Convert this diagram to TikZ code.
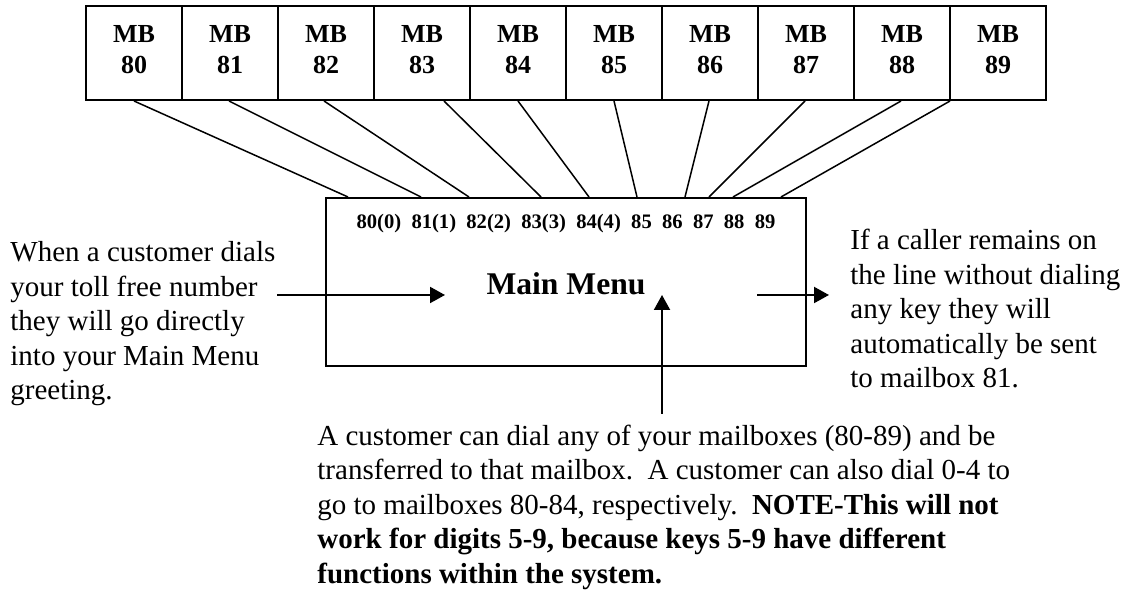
\documentclass[tikz,border=0pt]{standalone}
\usepackage{fontspec}
\setmainfont{Liberation Serif}
\usetikzlibrary{arrows.meta,calc}

\newlength{\du}
\setlength{\du}{0.5pt}

\tikzset{
  mbbox/.style={draw, line width=1pt, minimum width=96\du, minimum height=94\du,
    inner sep=0pt, align=center, text depth=4pt, font=\fontsize{13}{15.5}\selectfont\bfseries},
  menubox/.style={draw, line width=1pt, minimum width=480\du, minimum height=168\du, inner sep=0pt},
  wire/.style={line width=0.75pt},
  pointer/.style={line width=1pt, -{Triangle[length=7.5pt,width=8pt]}},
  note/.style={anchor=base west, align=left, inner sep=0pt, font=\fontsize{14.5}{17.25}\selectfont},
}

\begin{document}
\begin{tikzpicture}[x=\du, y=-\du]
\useasboundingbox (0,0) rectangle (1128,592);
% mailboxes along the top
\foreach \m [count=\i from 0] in {80,...,89}
  \node[mbbox] (mb\m) at (134+96*\i,53) {MB\\\m};
% main menu box
\node[menubox] (menu) at (566,282) {};
\node[anchor=base, inner sep=0pt, font=\fontsize{10.3}{12}\selectfont\bfseries] (keys) at (566,229)
  {80(0)\ \ 81(1)\ \ 82(2)\ \ 83(3)\ \ 84(4)\ \ 85\ \ 86\ \ 87\ \ 88\ \ 89};
\node[anchor=base, inner sep=0pt, font=\fontsize{15.8}{19}\selectfont\bfseries] (title) at (566,295) {Main Menu};
% wires from mailboxes to the menu
\foreach \m/\dx/\d in {80/0/23, 81/-1/96, 82/-2/144, 83/22/216, 84/0/264,
                       85/0/312, 86/-1/360, 87/-1/384, 88/-1/408, 89/-48/456}
  \draw[wire] ($(mb\m.south)+(\dx,0)$) -- ($(menu.north west)+(\d,0)$);
% notes (placed by the baseline of their last line)
\node[note] (dialtxt) at (10,400) {When a customer dials\\your toll free number\\they will go directly\\into your Main Menu\\greeting.};
\node[note] (waittxt) at (850,388) {If a caller remains on\\the line without dialing\\any key they will\\automatically be sent\\to mailbox 81.};
\node[note] (keytxt) at (317,583) {A customer can dial any of your mailboxes (80-89) and be\\
  transferred to that mailbox.\ \ A customer can also dial 0-4 to\\
  go to mailboxes 80-84, respectively.\ \ \textbf{NOTE-This will not}\\
  \textbf{work for digits 5-9, because keys 5-9 have different}\\
  \textbf{functions within the system.}};
% arrows
\coordinate (inA) at (277,295);
\coordinate (inB) at (445,295);
\coordinate (outA) at (757,295);
\coordinate (outB) at (829,295);
\coordinate (upA) at (662,414);
\coordinate (upB) at (662,295);
\draw[pointer] (inA) -- (inB);
\draw[pointer] (outA) -- (outB);
\draw[pointer] (upA) -- (upB);
\end{tikzpicture}
\end{document}
